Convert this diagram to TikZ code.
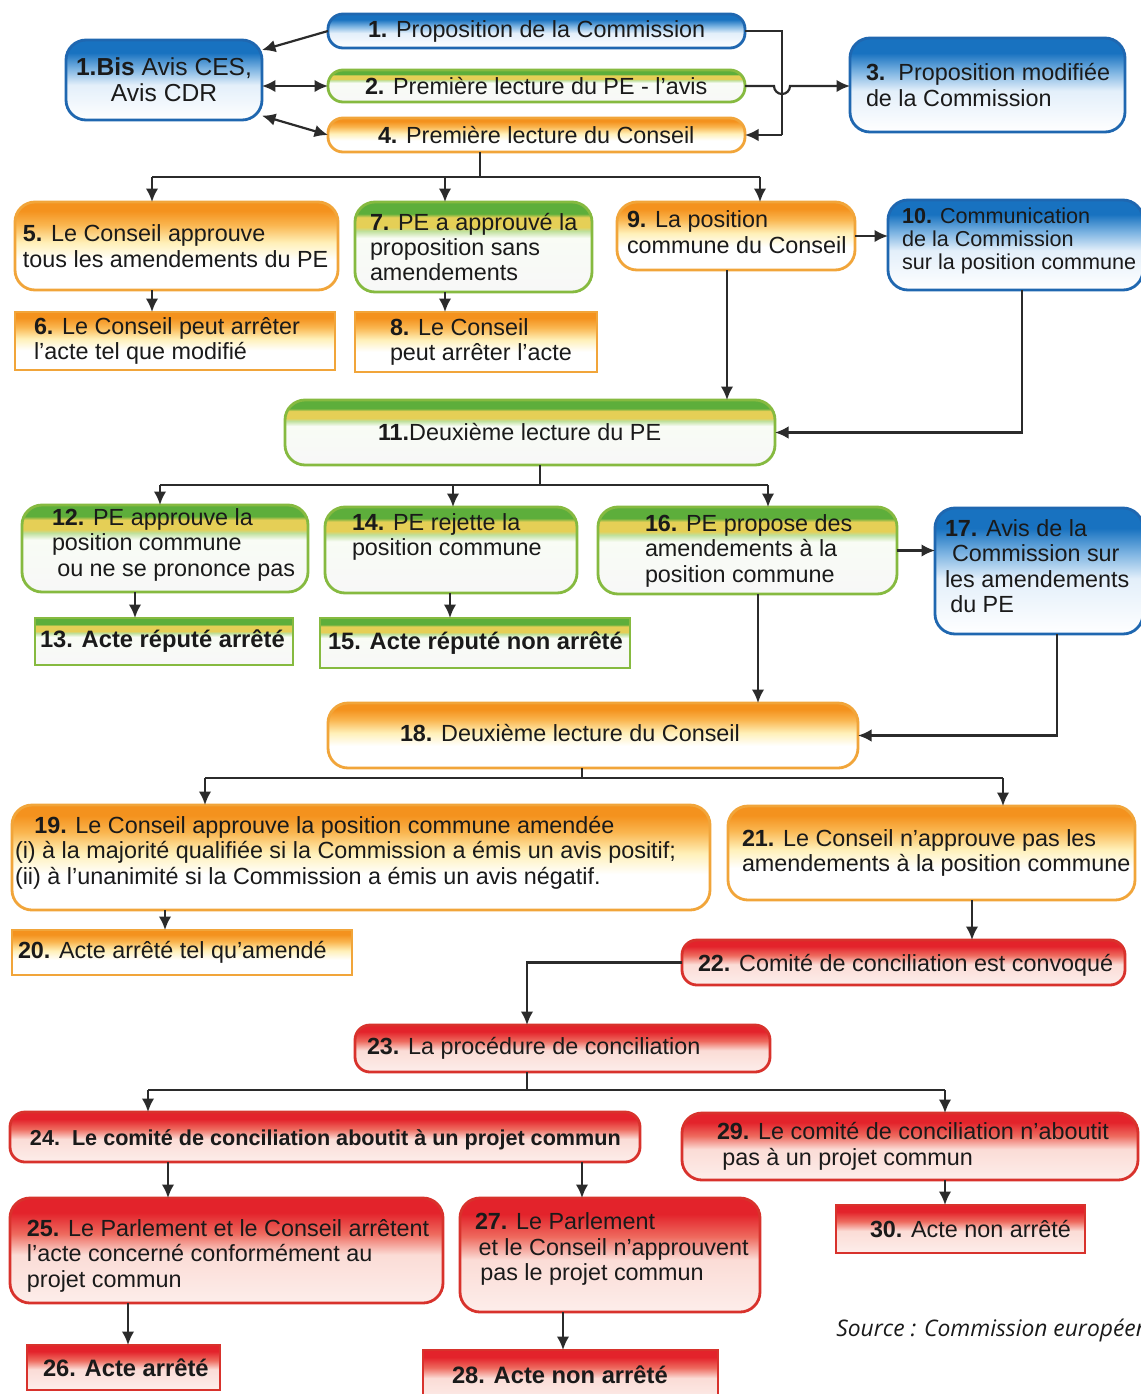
\documentclass[tikz,border=0pt]{standalone}
\usepackage{fontspec}
\setmainfont{Liberation Sans}
\newfontfamily\srcfont{Open Sans}
\usetikzlibrary{arrows.meta,calc}

\definecolor{blueA}{HTML}{1872C0}
\definecolor{blueB}{HTML}{7DB4E2}
\definecolor{blueC}{HTML}{E3EFFA}
\definecolor{blueD}{HTML}{1F67B0}
\definecolor{oraA}{HTML}{F4921E}
\definecolor{oraB}{HTML}{FAB650}
\definecolor{oraC}{HTML}{FFF0B8}
\definecolor{oraD}{HTML}{F1A53A}
\definecolor{grnA}{HTML}{5DAE3B}
\definecolor{grnB}{HTML}{E5CF56}
\definecolor{grnC}{HTML}{BFE09B}
\definecolor{grnD}{HTML}{86BA40}
\definecolor{redA}{HTML}{E3232B}
\definecolor{redB}{HTML}{EE6A5E}
\definecolor{redC}{HTML}{FBDCD6}
\definecolor{redD}{HTML}{D8322C}
\definecolor{linec}{HTML}{2B2B2B}
\definecolor{txtc}{HTML}{1A1A1A}

\pgfdeclareverticalshading{shBlue}{100bp}{color(0bp)=(white); color(25bp)=(white); color(47bp)=(blueC); color(57bp)=(blueB); color(67bp)=(blueA); color(100bp)=(blueA)}
\pgfdeclareverticalshading{shOra}{100bp}{color(0bp)=(white); color(25bp)=(white); color(42bp)=(white); color(52bp)=(oraC); color(62bp)=(oraB); color(70bp)=(oraA); color(100bp)=(oraA)}
\pgfdeclareverticalshading{shGrn}{100bp}{color(0bp)=(white); color(25bp)=(white!94!gray); color(55bp)=(white!90!grnC); color(59bp)=(grnC); color(61bp)=(grnB); color(66.5bp)=(grnB); color(68.5bp)=(grnA); color(100bp)=(grnA)}
\pgfdeclareverticalshading{shRed}{100bp}{color(0bp)=(redC); color(25bp)=(redC!50!white); color(48bp)=(redC); color(58bp)=(redB); color(68bp)=(redA); color(100bp)=(redA)}

\newcommand\bx[6]{\node[#1, minimum width={(#5-#3)*0.02cm}, minimum height={(#6-#4)*0.02cm}] (#2) at ({(#3+#5)/2},{(#4+#6)/2}) {};}
\newcommand\tx[6]{\node[#1, anchor=west] (#2) at ([xshift={(#4)*0.02cm}, yshift={-(#5)*0.02cm}]#3.west) {#6};}

\begin{document}
\begin{tikzpicture}[x=0.02cm,y=-0.02cm,
  rbox/.style={rounded corners=0.3cm, line width=1.6pt, inner sep=0pt, outer sep=0pt},
  rboxL/.style={rounded corners=0.4cm, line width=1.6pt, inner sep=0pt, outer sep=0pt},
  sbox/.style={line width=1.6pt, inner sep=0pt, outer sep=0pt},
  bluef/.style={draw=blueD, shading=shBlue},
  oraf/.style={draw=oraD, shading=shOra},
  grnf/.style={draw=grnD, shading=shGrn},
  redf/.style={draw=redD, shading=shRed},
  txt/.style={align=left, inner sep=0pt, outer sep=0pt, text=txtc, font=\fontsize{13.3}{14.5}\selectfont},
  txts/.style={txt, font=\fontsize{12.3}{13.1}\selectfont},
  txtbis/.style={txt, align=center, font=\fontsize{14}{14.8}\selectfont},
  txtb/.style={txt, font=\fontsize{13.5}{14.5}\selectfont\bfseries},
  txtbb/.style={txt, font=\fontsize{12.3}{14}\selectfont\bfseries},
  ln/.style={draw=linec, line width=1.25pt},
  arr/.style={ln, -{Latex[length=2.7mm,width=2.5mm]}},
  arr2/.style={ln, {Latex[length=2.7mm,width=2.5mm]}-{Latex[length=2.7mm,width=2.5mm]}}
]
\useasboundingbox (0,0) rectangle (1141,1394);
\clip (0,0) rectangle (1141,1394);
\fill[white] (0,0) rectangle (1141,1394);

% ---------- boxes ----------
\bx{rbox,bluef}{b1}{328}{14}{745}{48}
\bx{rboxL,bluef}{b1b}{66}{40}{262}{120}
\bx{rbox,grnf}{b2}{328}{70}{745}{102}
\bx{rbox,oraf}{b4}{328}{118}{745}{152}
\bx{rboxL,bluef}{b3}{850}{38}{1125}{132}
\bx{rboxL,oraf}{b5}{15}{202}{338}{290}
\bx{rboxL,grnf}{b7}{355}{202}{592}{292}
\bx{rboxL,oraf}{b9}{617}{202}{855}{270}
\bx{rboxL,bluef}{b10}{888}{200}{1143}{290}
\bx{sbox,oraf}{b6}{15}{312}{335}{370}
\bx{sbox,oraf}{b8}{355}{312}{597}{372}
\bx{rboxL,grnf}{b11}{285}{400}{775}{465}
\bx{rboxL,grnf}{b12}{22}{505}{308}{592}
\bx{rboxL,grnf}{b14}{325}{507}{577}{593}
\bx{rboxL,grnf}{b16}{598}{507}{897}{594}
\bx{rboxL,bluef}{b17}{935}{508}{1143}{634}
\bx{sbox,grnf}{b13}{35}{618}{293}{665}
\bx{sbox,grnf}{b15}{320}{618}{630}{668}
\bx{rboxL,oraf}{b18}{328}{703}{858}{768}
\bx{rboxL,oraf}{b19}{12}{805}{710}{910}
\bx{rboxL,oraf}{b21}{728}{806}{1135}{900}
\bx{sbox,oraf}{b20}{12}{930}{352}{975}
\bx{rbox,redf}{b22}{682}{940}{1125}{985}
\bx{rbox,redf}{b23}{355}{1025}{770}{1072}
\bx{rbox,redf}{b24}{10}{1112}{640}{1162}
\bx{rboxL,redf}{b29}{682}{1113}{1138}{1180}
\bx{rboxL,redf}{b25}{10}{1198}{443}{1303}
\bx{rboxL,redf}{b27}{460}{1198}{760}{1312}
\bx{sbox,redf}{b30}{836}{1205}{1085}{1253}
\bx{sbox,redf}{b26}{27}{1345}{220}{1390}
\bx{sbox,redf}{b28}{423}{1350}{718}{1402}

% ---------- texts ----------
\tx{txt}{t1}{b1}{40}{0}{\textbf{1.} Proposition de la Commission}
\node[txtbis] (t1b) at (b1b.center) {\textbf{1.Bis} Avis CES,\\Avis CDR};
\tx{txt}{t2}{b2}{37}{0}{\textbf{2.} Première lecture du PE - l'avis}
\tx{txt}{t4}{b4}{50}{0}{\textbf{4.} Première lecture du Conseil}
\tx{txt}{t3}{b3}{16}{0}{\textbf{3.}\ \ Proposition modifiée\\de la Commission}
\tx{txt}{t5}{b5}{8}{0}{\textbf{5.} Le Conseil approuve\\tous les amendements du PE}
\tx{txt}{t7}{b7}{15}{0}{\textbf{7.} PE a approuvé la\\proposition sans\\amendements}
\tx{txt}{t9}{b9}{10}{-4}{\textbf{9.} La position\\commune du Conseil}
\tx{txts}{t10}{b10}{14}{-4}{\textbf{10.} Communication\\de la Commission\\sur la position commune}
\tx{txt}{t6}{b6}{19}{0}{\textbf{6.} Le Conseil peut arrêter\\l'acte tel que modifié}
\tx{txt}{t8}{b8}{35}{0}{\textbf{8.} Le Conseil\\peut arrêter l'acte}
\tx{txt}{t11}{b11}{93}{0}{\textbf{11.}Deuxième lecture du PE}
\tx{txt}{t12}{b12}{30}{-4}{\textbf{12.} PE approuve la\\position commune\\\hspace*{3pt}ou ne se prononce pas}
\tx{txt}{t14}{b14}{27}{-13}{\textbf{14.} PE rejette la\\position commune}
\tx{txt}{t16}{b16}{47}{0}{\textbf{16.} PE propose des\\amendements à la\\position commune}
\tx{txt}{t17}{b17}{10}{-5}{\textbf{17.} Avis de la\\\hspace*{4pt}Commission sur\\les amendements\\\hspace*{3pt}du PE}
\tx{txtb}{t13}{b13}{5}{0}{13. Acte réputé arrêté}
\tx{txtb}{t15}{b15}{8}{0}{15. Acte réputé non arrêté}
\tx{txt}{t18}{b18}{72}{-3}{\textbf{18.} Deuxième lecture du Conseil}
\tx{txt}{t19}{b19}{3}{-5}{\hspace*{11pt}\textbf{19.} Le Conseil approuve la position commune amendée\\(i) à la majorité qualifiée si la Commission a émis un avis positif;\\(ii) à l'unanimité si la Commission a émis un avis négatif.}
\tx{txt}{t21}{b21}{14}{0}{\textbf{21.} Le Conseil n'approuve pas les\\amendements à la position commune}
\tx{txt}{t20}{b20}{6}{0}{\textbf{20.} Acte arrêté tel qu'amendé}
\tx{txt}{t22}{b22}{16}{3}{\textbf{22.} Comité de conciliation est convoqué}
\tx{txt}{t23}{b23}{12}{0}{\textbf{23.} La procédure de conciliation}
\tx{txtbb}{t24}{b24}{20}{3}{24.\ \ Le comité de conciliation aboutit à un projet commun}
\tx{txt}{t29}{b29}{35}{0}{\textbf{29.} Le comité de conciliation n'aboutit\\\hspace*{3pt}pas à un projet commun}
\tx{txt}{t25}{b25}{17}{5}{\textbf{25.} Le Parlement et le Conseil arrêtent\\l'acte concerné conformément au\\projet commun}
\tx{txt}{t27}{b27}{15}{-6}{\textbf{27.} Le Parlement\\\hspace*{2pt}et le Conseil n'approuvent\\\hspace*{3pt}pas le projet commun}
\tx{txt}{t30}{b30}{34}{0}{\textbf{30.} Acte non arrêté}
\tx{txtb}{t26}{b26}{16}{0}{26. Acte arrêté}
\tx{txtb}{t28}{b28}{29}{-1}{28. Acte non arrêté}

\node[anchor=west, inner sep=0pt, text=txtc, font=\srcfont\itshape\fontsize{13}{15}\selectfont] (src) at (836,1330) {Source : Commission européenne};

% ---------- connectors: top ----------
\draw[arr] (b1.west) -- (b1b.17);
\draw[arr2] (b1b.east |- b2.west) -- (b2.west);
\draw[arr2] (b1b.-20) -- (b4.west);
\coordinate (rr) at (782,0);
\draw[ln] (b1.east) -| (rr |- b4.east);
\draw[arr] (rr |- b4.east) -- (b4.east);
\draw[arr] (b2.east) -- ($(rr |- b2.east)+(-8,0)$) arc[start angle=180, end angle=360, radius=0.16cm] -- (b3.west |- b2.east);

% from 4
\coordinate (j4) at (480,177);
\coordinate (k5) at (152,177);
\coordinate (k7) at (445,177);
\coordinate (k9) at (760,177);
\draw[ln] (b4.south -| j4) -- (j4);
\draw[ln] (k5) -- (k9);
\draw[arr] (k5) -- (k5 |- b5.north);
\draw[arr] (k7) -- (k7 |- b7.north);
\draw[arr] (k9) -- (k9 |- b9.north);
\draw[arr] (b5.south -| k5) -- (b6.north -| k5);
\draw[arr] (b7.south -| k7) -- (b8.north -| k7);
\draw[arr] (b9.east) -- (b9.east -| b10.west);
\coordinate (c727) at (727,0);
\draw[arr] (b9.south -| c727) -- (b11.north -| c727);
\coordinate (c1022) at (1022,0);
\draw[arr] (b10.south -| c1022) |- (b11.east);

% from 11
\coordinate (j11) at (540,485);
\coordinate (k12) at (160,485);
\coordinate (k14) at (453,485);
\coordinate (k16) at (768,485);
\draw[ln] (b11.south -| j11) -- (j11);
\draw[ln] (k12) -- (k16);
\draw[arr] (k12) -- (k12 |- b12.north);
\draw[arr] (k14) -- (k14 |- b14.north);
\draw[arr] (k16) -- (k16 |- b16.north);
\coordinate (c135) at (135,0);
\draw[arr] (b12.south -| c135) -- (b13.north -| c135);
\coordinate (c450) at (450,0);
\draw[arr] (b14.south -| c450) -- (b15.north -| c450);
\draw[arr] (b16.east) -- (b16.east -| b17.west);
\coordinate (c758) at (758,0);
\draw[arr] (b16.south -| c758) -- (b18.north -| c758);
\coordinate (c1057) at (1057,0);
\draw[arr] (b17.south -| c1057) |- (b18.east);

% from 18
\coordinate (j18) at (582,778);
\coordinate (k19) at (205,778);
\coordinate (k21) at (1003,778);
\draw[ln] (b18.south -| j18) -- (j18);
\draw[ln] (k19) -- (k21);
\draw[arr] (k19) -- (k19 |- b19.north);
\draw[arr] (k21) -- (k21 |- b21.north);
\coordinate (c165) at (165,0);
\draw[arr] (b19.south -| c165) -- (b20.north -| c165);
\coordinate (c972) at (972,0);
\draw[arr] (b21.south -| c972) -- (b22.north -| c972);
\coordinate (c527) at (527,0);
\draw[arr] (b22.west) -| (b23.north -| c527);

% from 23
\coordinate (j23) at (527,1090);
\coordinate (k24) at (148,1090);
\coordinate (k29) at (945,1090);
\draw[ln] (b23.south -| j23) -- (j23);
\draw[ln] (k24) -- (k29);
\draw[arr] (k24) -- (k24 |- b24.north);
\draw[arr] (k29) -- (k29 |- b29.north);
\coordinate (c168) at (168,0);
\draw[arr] (b24.south -| c168) -- (b25.north -| c168);
\coordinate (c582) at (582,0);
\draw[arr] (b24.south -| c582) -- (b27.north -| c582);
\draw[arr] (b29.south -| k29) -- (b30.north -| k29);
\coordinate (c128) at (128,0);
\draw[arr] (b25.south -| c128) -- (b26.north -| c128);
\coordinate (c563) at (563,0);
\draw[arr] (b27.south -| c563) -- (b28.north -| c563);
\end{tikzpicture}
\end{document}
